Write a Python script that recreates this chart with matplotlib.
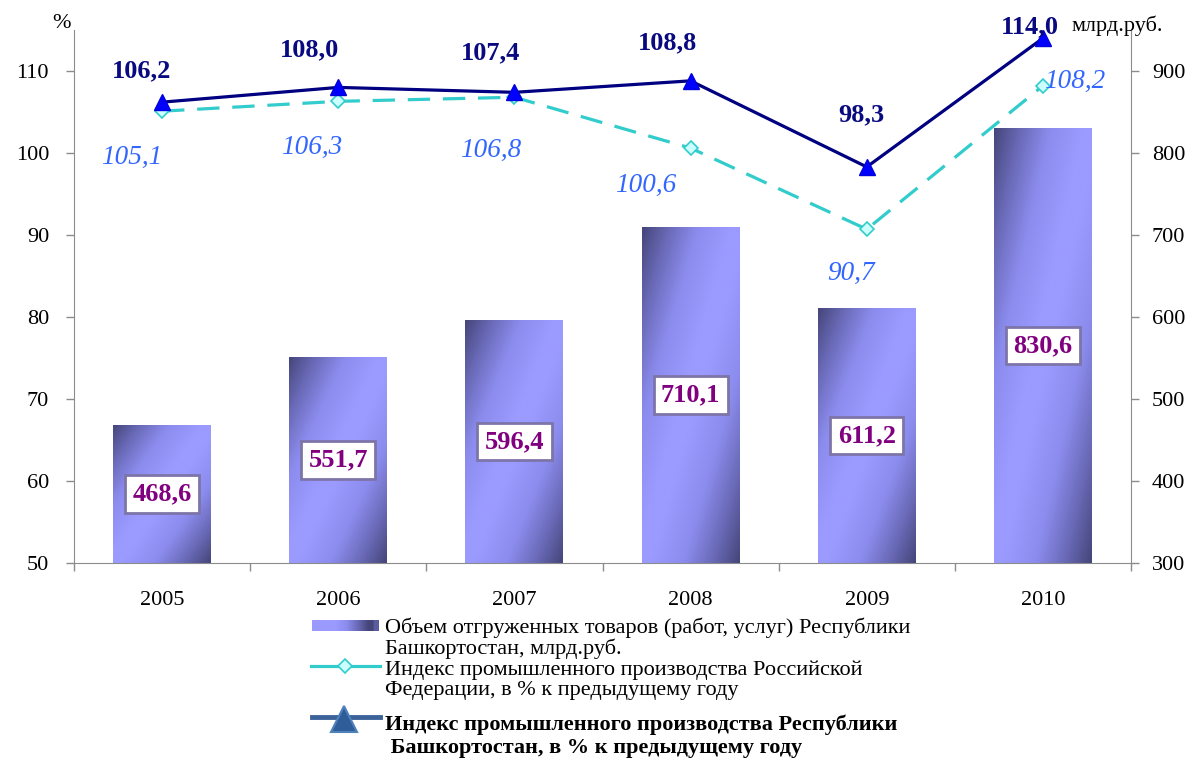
import numpy as np
import matplotlib
matplotlib.use('Agg')
import matplotlib.pyplot as plt
from matplotlib.colors import LinearSegmentedColormap
from matplotlib.lines import Line2D

# ---------------- data ----------------
years = ['2005', '2006', '2007', '2008', '2009', '2010']
shipped = [468.6, 551.7, 596.4, 710.1, 611.2, 830.6]          # млрд.руб.
rf_index = [105.1, 106.3, 106.8, 100.6, 90.7, 108.2]           # РФ, %
rb_index = [106.2, 108.0, 107.4, 108.8, 98.3, 114.0]           # РБ, %
left_ticks = [50, 60, 70, 80, 90, 100, 110]
right_ticks = [300, 400, 500, 600, 700, 800, 900]
legend_labels = [
    'Объем отгруженных товаров (работ, услуг) Республики\nБашкортостан, млрд.руб.',
    'Индекс промышленного производства Российской\nФедерации, в % к предыдущему году',
    'Индекс промышленного производства Республики\n Башкортостан, в % к предыдущему году',
]

def fmt(v):
    return f'{v:.1f}'.replace('.', ',')

# ---------------- layout ----------------
plt.rcParams['font.family'] = ['Liberation Serif', 'DejaVu Serif']
W, H = 1191, 762
fig = plt.figure(figsize=(W / 100, H / 100), dpi=100)

def fx(px):
    return px / W

def fy(py):
    return 1 - py / H

ax = fig.add_axes([fx(74), fy(563), fx(1131) - fx(74), fy(30) - fy(563)])
ax2 = ax.twinx()
ax.set_zorder(ax2.get_zorder() + 1)
ax.patch.set_visible(False)

x = np.arange(len(years))
grey = '#8C8C8C'
base = right_ticks[0]

# ---------------- bars with diagonal gradient ----------------
bar_cmap = LinearSegmentedColormap.from_list('bar', ['#9A9AFF', '#8C8CEE', '#6A6AB8', '#45457A'])
n = 200
u = np.linspace(0, 1, n)
U, V = np.meshgrid(u, u)
t = (U + V) / 2
dark = np.clip((np.abs(2 * t - 1) - 0.08) / 0.92, 0, 1) ** 1.1

bars = ax2.bar(x, np.array(shipped) - base, bottom=base, width=0.556,
               color='#9A9AFF', edgecolor='none', zorder=1)
for r in bars:
    x0, y0 = r.get_x(), r.get_y()
    w, h = r.get_width(), r.get_height()
    im = ax2.imshow(dark, cmap=bar_cmap, vmin=0, vmax=1, origin='upper',
                    extent=[x0, x0 + w, y0, y0 + h], aspect='auto', zorder=2,
                    interpolation='bilinear')
    im.set_clip_path(r)

for xi, v in zip(x, shipped):
    ax2.text(xi, base + (v - base) / 2, fmt(v), ha='center', va='center',
             fontsize=19, fontweight='bold', color='#800080', zorder=5,
             bbox=dict(boxstyle='square,pad=0.28', fc='white', ec='#7D74A8', lw=2))

# ---------------- lines ----------------
ax.plot(x, rf_index, color='#33CCCC', lw=2.3, dashes=(7, 4), marker='D', ms=7.5,
        mfc='#CCFFFF', mec='#33CCCC', mew=1.2, zorder=3)
ax.plot(x, rb_index, color='#000080', lw=2.3, marker='^', ms=12,
        mfc='#0000FF', mec='#0000DD', zorder=4)

rb_off = [(-21, -31), (-29, -38), (-24, -40), (-23, -38), (-5, -52), (-13, -11)]
rf_off = [(-30, 46), (-27, 46), (-24, 53), (-45, 37), (-16, 44), (32, -4)]
for xi, v, (dx, dy) in zip(x, rb_index, rb_off):
    ax.annotate(fmt(v), (xi, v), xytext=(dx * 0.72, -dy * 0.72), textcoords='offset points',
                ha='center', va='center', fontsize=19, fontweight='bold', color='#0A0A80',
                zorder=6)
for xi, v, (dx, dy) in zip(x, rf_index, rf_off):
    ax.annotate(fmt(v), (xi, v), xytext=(dx * 0.72, -dy * 0.72), textcoords='offset points',
                ha='center', va='center', fontsize=19.5, fontstyle='italic', color='#3366FF',
                zorder=6)

# ---------------- axes ----------------
ax.set_xlim(-0.5, len(years) - 0.5)
ax.set_ylim(50, 115)
ax2.set_ylim(base, 950)
ax.set_yticks(left_ticks)
ax2.set_yticks(right_ticks)
ax.set_xticks(x, years)
ax.set_xticks(np.arange(-0.5, len(years), 1.0), minor=True)

ax.tick_params(axis='x', which='major', length=0, pad=20, labelsize=16)
ax.tick_params(axis='x', which='minor', length=6, width=1, color=grey, direction='out')
ax.tick_params(axis='y', length=6, width=1, color=grey, direction='out', pad=12, labelsize=16)
ax2.tick_params(axis='y', length=6, width=1, color=grey, direction='out', pad=9, labelsize=16)

for s in ['top', 'right']:
    ax.spines[s].set_visible(False)
for s in ['top', 'left', 'bottom']:
    ax2.spines[s].set_visible(False)
ax.spines['left'].set_color(grey)
ax.spines['bottom'].set_color(grey)
ax2.spines['right'].set_color(grey)

fig.text(fx(62), fy(24), '%', ha='center', va='center', fontsize=16)
fig.text(fx(1071), fy(26), 'млрд.руб.', ha='left', va='center', fontsize=16)

# ---------------- legend (manual) ----------------
hax = fig.add_axes([fx(312), fy(631), fx(379) - fx(312), fy(620) - fy(631)])
hg = np.linspace(0, 1, 100)
hprof = np.clip((hg - 0.35) / 0.5, 0, 1)
hprof[hg > 0.92] = 0.8
hax.imshow(hprof[None, :], cmap=bar_cmap, vmin=0, vmax=1, aspect='auto',
           interpolation='bilinear')
hax.axis('off')

fig.add_artist(Line2D([fx(311), fx(380)], [fy(666), fy(666)], color='#33CCCC', lw=2.3))
fig.add_artist(Line2D([fx(345)], [fy(666)], marker='D', ms=7.5, mfc='#CCFFFF', mec='#33CCCC',
                      mew=1.2, lw=0))
fig.add_artist(Line2D([fx(312), fx(380)], [fy(717), fy(717)], color='#3C6399', lw=3.5))
fig.add_artist(Line2D([fx(344)], [fy(719)], marker='^', ms=19, mfc='#2F5D9A', mec='#4F81BD',
                      mew=1.5, lw=0))

fig.text(fx(385), fy(638.5), legend_labels[0], ha='left', va='center', fontsize=16,
         linespacing=1.0)
fig.text(fx(385), fy(680), legend_labels[1], ha='left', va='center', fontsize=16,
         linespacing=1.05)
fig.text(fx(385), fy(736), legend_labels[2], ha='left', va='center', fontsize=16,
         fontweight='bold', linespacing=1.2)

fig.savefig('out.png', dpi=100)
